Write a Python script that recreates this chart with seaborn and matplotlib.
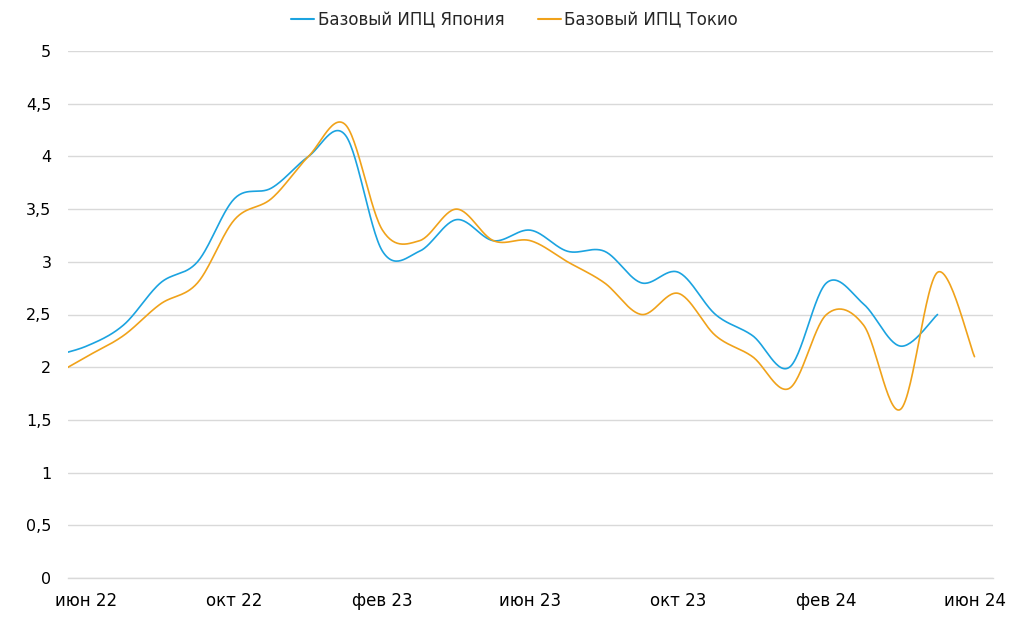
import numpy as np
import pandas as pd
import matplotlib
matplotlib.use("Agg")
import matplotlib.pyplot as plt
import seaborn as sns

# Monthly data, index 0 = May 2022
months = ["май 22", "июн 22", "июл 22", "авг 22", "сен 22", "окт 22", "ноя 22", "дек 22",
          "янв 23", "фев 23", "мар 23", "апр 23", "май 23", "июн 23", "июл 23", "авг 23",
          "сен 23", "окт 23", "ноя 23", "дек 23", "янв 24", "фев 24", "мар 24", "апр 24",
          "май 24", "июн 24"]
japan = [2.1, 2.2, 2.4, 2.8, 3.0, 3.6, 3.7, 4.0, 4.2, 3.1, 3.1, 3.4, 3.2, 3.3, 3.1, 3.1,
         2.8, 2.9, 2.5, 2.3, 2.0, 2.8, 2.6, 2.2, 2.5]
tokyo = [1.9, 2.1, 2.3, 2.6, 2.8, 3.4, 3.6, 4.0, 4.3, 3.3, 3.2, 3.5, 3.2, 3.2, 3.0, 2.8,
         2.5, 2.7, 2.3, 2.1, 1.8, 2.5, 2.4, 1.6, 2.9, 2.1]
tick_labels = ["июн 22", "окт 22", "фев 23", "июн 23", "окт 23", "фев 24", "июн 24"]
series_names = ["Базовый ИПЦ Япония", "Базовый ИПЦ Токио"]
colors = ["#1BA3E0", "#F0A21A"]


def smooth(vals, n=30):
    """Excel-like smoothed line (Catmull-Rom as cubic Bezier)."""
    P = np.column_stack([np.arange(len(vals), dtype=float), np.asarray(vals, float)])
    out = []
    m = len(P)
    for i in range(m - 1):
        p0 = P[i - 1] if i > 0 else P[i]
        p1 = P[i]
        p2 = P[i + 1]
        p3 = P[i + 2] if i + 2 < m else P[i + 1]
        c1 = p1 + (p2 - p0) / 6.0
        c2 = p2 - (p3 - p1) / 6.0
        t = np.linspace(0, 1, n, endpoint=(i == m - 2))[:, None]
        seg = ((1 - t) ** 3) * p1 + 3 * ((1 - t) ** 2) * t * c1 + 3 * (1 - t) * t ** 2 * c2 + t ** 3 * p2
        out.append(seg)
    return np.vstack(out)


frames = []
for name, vals in zip(series_names, [japan, tokyo]):
    s = smooth(vals)
    frames.append(pd.DataFrame({"x": s[:, 0], "y": s[:, 1], "series": name}))
df = pd.concat(frames, ignore_index=True)

sns.set_theme(style="white")
plt.rcParams["font.family"] = ["DejaVu Sans"]

fig = plt.figure(figsize=(10.24, 6.19), dpi=100)
ax = fig.add_axes([68 / 1024, 1 - 578 / 619, (993 - 68) / 1024, (578 - 51) / 619])

sns.lineplot(data=df, x="x", y="y", hue="series", palette=colors, sort=False,
             estimator=None, linewidth=1.2, ax=ax, legend=False)

ax.set_xlim(0.5, 25.5)
ax.set_ylim(0, 5)
ax.set_yticks(np.arange(0, 5.01, 0.5))
ax.set_yticklabels([("%g" % v).replace(".", ",") for v in np.arange(0, 5.01, 0.5)])
tick_pos = [months.index(t) for t in tick_labels]
ax.set_xticks(tick_pos)
ax.set_xticklabels(tick_labels)
ax.set_xlabel("")
ax.set_ylabel("")
ax.grid(axis="y", color="#D9D9D9", linewidth=1.0)
ax.grid(axis="x", visible=False)
for sp in ["top", "right", "left"]:
    ax.spines[sp].set_visible(False)
ax.spines["bottom"].set_color("#D9D9D9")
ax.spines["bottom"].set_linewidth(1.0)
ax.tick_params(axis="both", length=0, colors="#000000")
ax.tick_params(axis="y", pad=12, labelsize=11.5)
ax.tick_params(axis="x", pad=10, labelsize=12)

handles = [plt.Line2D([], [], color=c, linewidth=1.5) for c in colors]
fig.legend(handles, series_names, loc="center", bbox_to_anchor=(0.5024, 1 - 20 / 619),
           ncol=2, frameon=False, fontsize=12, handlelength=1.4, handletextpad=0.2,
           columnspacing=2.0)

fig.savefig("out.png", dpi=100, facecolor="white")
